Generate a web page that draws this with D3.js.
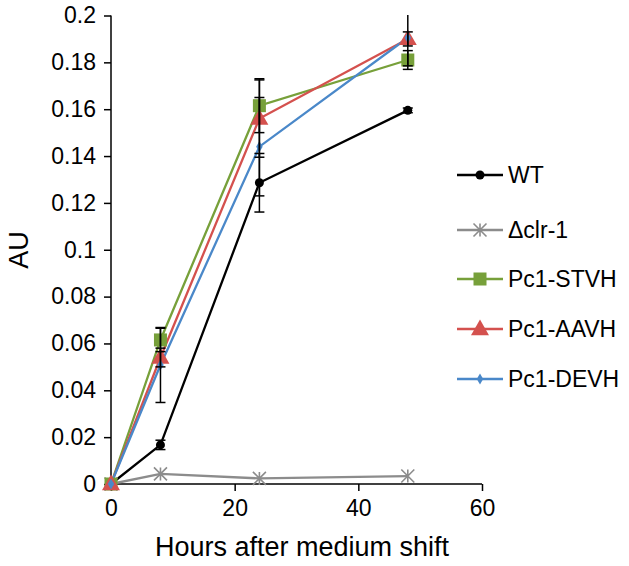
<!DOCTYPE html>
<html>
<head>
<meta charset="utf-8">
<script src="https://cdn.jsdelivr.net/npm/d3@7"></script>
<style>
  html, body { margin: 0; padding: 0; background: #fff; }
  svg { display: block; }
  text { font-family: Arial, "Liberation Sans", sans-serif; fill: #000; }
</style>
</head>
<body>
<svg id="chart" width="629" height="566"></svg>
<script>
// ---- data ----
const hours = [0, 8, 24, 48];
const seriesNames = ["WT", "\u0394clr-1", "Pc1-STVH", "Pc1-AAVH", "Pc1-DEVH"];
const wtValues   = [0, 0.0167, 0.1286, 0.1595];
const clrValues  = [0, 0.0043, 0.0024, 0.0034];
const stvhValues = [0, 0.0615, 0.1615, 0.181];
const aavhValues = [0, 0.054, 0.156, 0.190];
const devhValues = [0, 0.0508, 0.144, 0.1905];
const wtErr   = [0, 0.002, 0.0125, 0.001];
const clrErr  = [0, 0, 0, 0];
const stvhErr = [0, 0.005, 0.0115, 0.004];
const aavhErr = [0, 0.004, 0.0165, 0.003];
const devhErr = [0, 0.016, 0.021, 0.012];
const xTicks = [0, 20, 40, 60];
const yTicks = [0, 0.02, 0.04, 0.06, 0.08, 0.1, 0.12, 0.14, 0.16, 0.18, 0.2];
const colors = ["#000000", "#8c8c8c", "#77a03a", "#d4514e", "#4a88c9"];
const markers = ["circle", "asterisk", "square", "triangle", "diamond"];

const series = seriesNames.map((name, i) => ({
  name,
  values: [wtValues, clrValues, stvhValues, aavhValues, devhValues][i],
  errs: [wtErr, clrErr, stvhErr, aavhErr, devhErr][i],
  color: colors[i],
  marker: markers[i]
}));

// ---- layout ----
const svg = d3.select("#chart");
const x = d3.scaleLinear().domain([0, 60]).range([111, 482]);
const y = d3.scaleLinear().domain([0, 0.2]).range([484, 15.5]);

svg.append("defs").append("clipPath").attr("id", "plotclip")
  .append("rect").attr("x", 100).attr("y", 15).attr("width", 400).attr("height", 480);

// axes
const yAxis = d3.axisLeft(y).tickValues(yTicks).tickSize(7).tickPadding(8)
  .tickFormat(d => d === 0 ? "0" : d3.format("")(+d.toFixed(2)));
const gy = svg.append("g").attr("transform", `translate(${x(0)},0)`).call(yAxis);
const xAxis = d3.axisBottom(x).tickValues(xTicks).tickSize(7).tickPadding(9);
const gx = svg.append("g").attr("transform", `translate(0,${y(0)})`).call(xAxis);
[gx, gy].forEach(g => {
  g.select(".domain").attr("stroke", "#000").attr("stroke-width", 1.5);
  g.selectAll(".tick line").attr("stroke", "#000").attr("stroke-width", 1.5);
  g.selectAll(".tick text").style("font-size", "23px").style("font-family", "Arial, 'Liberation Sans', sans-serif").attr("fill", "#000");
});
gy.select(".domain").attr("d", `M0,${y(0.2)}V${y(0)}`);
gx.select(".domain").attr("d", `M${x(0)},0H${x(60)}`);

// axis titles
svg.append("text").attr("x", 302).attr("y", 556).attr("text-anchor", "middle")
  .style("font-size", "27px").text("Hours after medium shift");
svg.append("text").attr("transform", "translate(28,250) rotate(-90)").attr("text-anchor", "middle")
  .style("font-size", "27px").text("AU");

// lines
const line = d3.line().x((d, i) => x(hours[i])).y(d => y(d));
const plot = svg.append("g");
series.forEach(s => {
  plot.append("path").datum(s.values).attr("d", line)
    .attr("fill", "none").attr("stroke", s.color).attr("stroke-width", 2.3);
});

// marker drawer
function drawMarker(g, type, cx, cy, color, scale) {
  scale = scale || 1;
  if (type === "circle") {
    g.append("circle").attr("cx", cx).attr("cy", cy).attr("r", 4.5 * scale).attr("fill", color);
  } else if (type === "square") {
    const s = 13 * scale;
    g.append("rect").attr("x", cx - s / 2).attr("y", cy - s / 2).attr("width", s).attr("height", s).attr("fill", color);
  } else if (type === "triangle") {
    g.append("path").attr("d", d3.symbol().type(d3.symbolTriangle).size(140 * scale * scale)())
      .attr("transform", `translate(${cx},${cy + 1})`).attr("fill", color);
  } else if (type === "diamond") {
    g.append("path").attr("d", d3.symbol().type(d3.symbolDiamond).size(36 * scale * scale)())
      .attr("transform", `translate(${cx},${cy})`).attr("fill", color);
  } else if (type === "asterisk") {
    const r = 6.5 * scale;
    const p = `M${cx - r},${cy - r}L${cx + r},${cy + r}M${cx - r},${cy + r}L${cx + r},${cy - r}M${cx},${cy - r}L${cx},${cy + r}`;
    g.append("path").attr("d", p).attr("stroke", color).attr("stroke-width", 1.6).attr("fill", "none");
  }
}

// markers
series.forEach(s => {
  const g = plot.append("g");
  s.values.forEach((v, i) => drawMarker(g, s.marker, x(hours[i]), y(v), s.color));
});

// error bars
const eg = svg.append("g").attr("clip-path", "url(#plotclip)");
series.forEach(s => {
  s.values.forEach((v, i) => {
    const e = s.errs[i];
    if (!e) return;
    const cx = x(hours[i]);
    eg.append("line").attr("x1", cx).attr("x2", cx).attr("y1", y(v - e)).attr("y2", y(v + e))
      .attr("stroke", "#000").attr("stroke-width", 1.5);
    [v - e, v + e].forEach(t => {
      if (t > 0.2) return;
      eg.append("line").attr("x1", cx - 5).attr("x2", cx + 5).attr("y1", y(t)).attr("y2", y(t))
        .attr("stroke", "#000").attr("stroke-width", 1.5);
    });
  });
});

// legend
const legendY = [175, 230, 279, 329, 379];
const legend = svg.append("g");
series.forEach((s, i) => {
  const ly = legendY[i];
  legend.append("line").attr("x1", 457).attr("x2", 503).attr("y1", ly).attr("y2", ly)
    .attr("stroke", s.color).attr("stroke-width", 2.3);
  drawMarker(legend, s.marker, 480, ly, s.color);
  legend.append("text").attr("x", 508).attr("y", ly + 8).style("font-size", "23px").text(s.name);
});
</script>
</body>
</html>
